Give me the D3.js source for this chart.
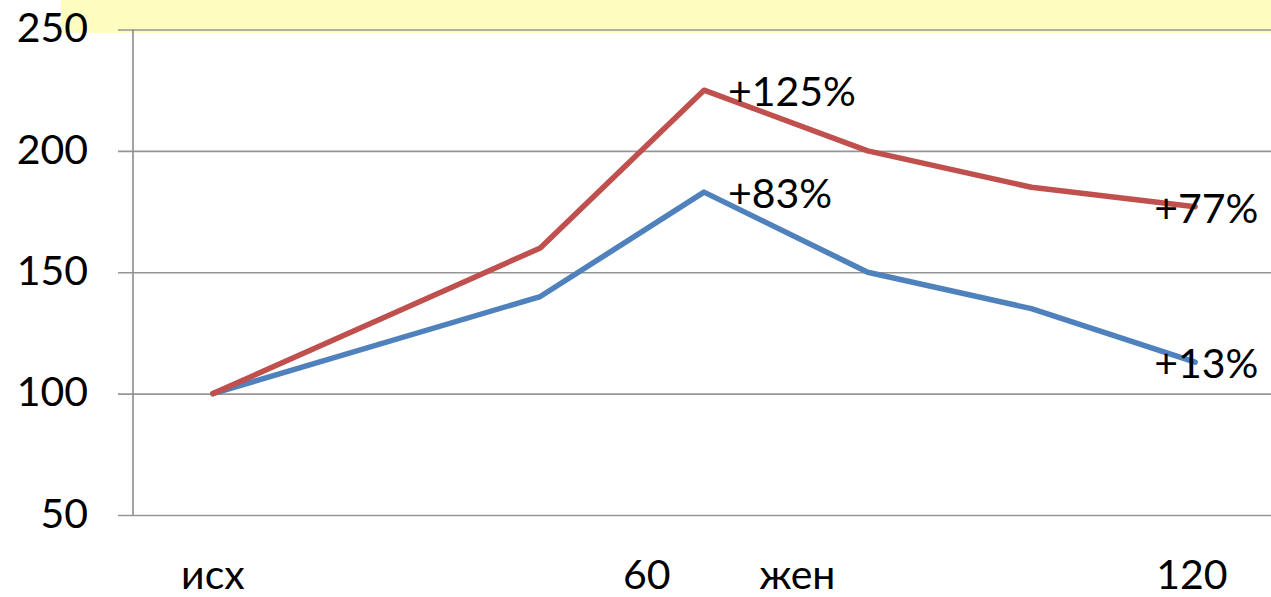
<!DOCTYPE html>
<html>
<head>
<meta charset="utf-8">
<script src="https://cdn.jsdelivr.net/npm/d3@7"></script>
<style>
  html, body { margin: 0; padding: 0; background: #ffffff; }
  svg { display: block; }
  text { font-family: Lato, "Open Sans", "Noto Sans", sans-serif; fill: #000; }
</style>
</head>
<body>
<svg id="chart" width="1271" height="597"></svg>
<script>
// Measurement slots (index 1 has no reading; the line bridges it)
const slots = [0, 1, 2, 3, 4, 5, 6];
const seriesRed  = [100, null, 160, 225, 200, 185, 177];
const seriesBlue = [100, null, 140, 183, 150, 135, 113];

// Axis labels along the bottom and the slot positions they sit at
const xTickLabels = ["исх", "60", "жен", "120"];
const xTickAt     = [0, 2.65, 3.57, 5.98];
const yTicks      = [50, 100, 150, 200, 250];

// Percent-change annotations: series, slot, text
const notes = [
  { series: "red",  slot: 3, text: "+125%" },
  { series: "blue", slot: 3, text: "+83%" },
  { series: "red",  slot: 6, text: "+77%" },
  { series: "blue", slot: 6, text: "+13%" }
];

const colors = { red: "#C0504D", blue: "#4F81BD" };
const values = { red: seriesRed, blue: seriesBlue };

const svg = d3.select("#chart");
const W = 1271, H = 597;
const plot = { left: 133, top: 29.5, bottom: 515, right: 1277 };

const x = d3.scaleLinear().domain([-0.5, 6.5]).range([131, 1277]);
const y = d3.scaleLinear().domain([50, 250]).range([plot.bottom, plot.top]);

// Pale yellow strip along the top
svg.append("rect")
  .attr("x", 61).attr("y", 0)
  .attr("width", W - 61).attr("height", 33)
  .attr("fill", "#FEFCBE");

// Horizontal gridlines with outward ticks and labels
const yAxis = d3.axisLeft(y)
  .tickValues(yTicks)
  .tickSize(-(W - plot.left))
  .tickSizeOuter(0)
  .tickPadding(45)
  .tickFormat(d3.format("d"));

const gy = svg.append("g")
  .attr("transform", `translate(${plot.left},0)`)
  .call(yAxis);
gy.select(".domain").remove();
gy.selectAll(".tick line")
  .attr("x1", -15)
  .attr("stroke", "#969696")
  .attr("stroke-width", 1.6);
gy.selectAll(".tick text")
  .attr("font-size", 41)
  .attr("dy", "0.30em")
  .style("font-family", "Lato, 'Open Sans', sans-serif");

// Vertical axis line
svg.append("line")
  .attr("x1", plot.left).attr("x2", plot.left)
  .attr("y1", plot.top).attr("y2", plot.bottom)
  .attr("stroke", "#8c8c8c")
  .attr("stroke-width", 1.6);

// Category labels under the plot
svg.append("g").selectAll("text")
  .data(xTickLabels)
  .join("text")
  .attr("x", (d, i) => x(xTickAt[i]))
  .attr("y", 589)
  .attr("text-anchor", "middle")
  .attr("font-size", 41)
  .text(d => d);

// Series lines, skipping the empty slot
const line = d3.line()
  .x(d => x(d.slot))
  .y(d => y(d.v));

["blue", "red"].forEach(key => {
  const pts = slots
    .map((s, i) => ({ slot: s, v: values[key][i] }))
    .filter(d => d.v != null);
  svg.append("path")
    .datum(pts)
    .attr("fill", "none")
    .attr("stroke", colors[key])
    .attr("stroke-width", 5.5)
    .attr("stroke-linejoin", "round")
    .attr("stroke-linecap", "round")
    .attr("d", line);
});

// Annotations: right of the peak, straddling the final point
svg.append("g").selectAll("text")
  .data(notes)
  .join("text")
  .attr("x", d => x(d.slot) + (d.slot === slots.length - 1 ? -41 : 24))
  .attr("y", d => y(values[d.series][d.slot]) + 16)
  .attr("font-size", 41)
  .text(d => d.text);
</script>
</body>
</html>
